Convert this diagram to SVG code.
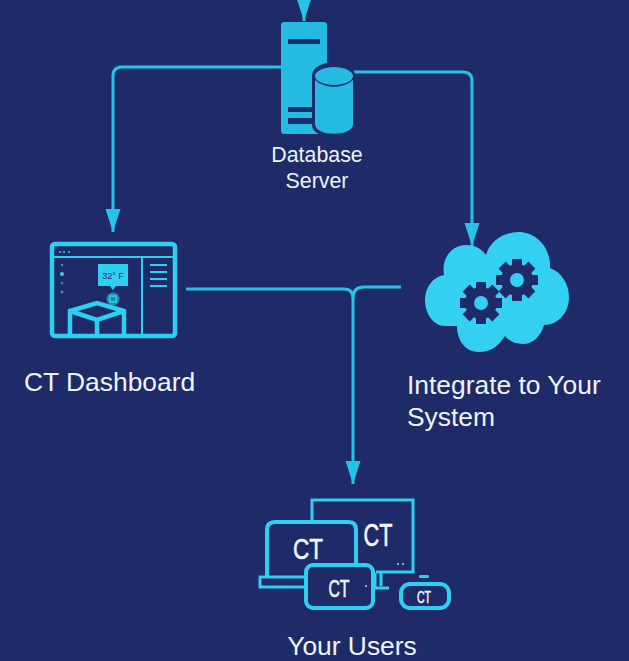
<svg xmlns="http://www.w3.org/2000/svg" width="629" height="661" viewBox="0 0 629 661">
<style>
text{font-family:"Liberation Sans",Arial,sans-serif;fill:#eef3f8}
.l{font-size:26.4px}.m{font-size:21.4px;text-anchor:middle}
.c{fill:none;stroke:#25c3e8;stroke-width:3}
.o{fill:none;stroke:#2ed0f2;stroke-width:4}
.t{fill:none;stroke:#2ed0f2;stroke-width:2}
.ct{font-weight:400;fill:#f2f4f8;text-anchor:middle;stroke:#f2f4f8;stroke-width:.6}
.bg{fill:#1f2a68}
</style>
<defs>
<marker id="a" markerUnits="userSpaceOnUse" markerWidth="24" markerHeight="16" refX="23" refY="8" orient="auto"><path d="M0 0.5L23 8 0 15.5Z" fill="#25c3e8"/></marker>
<g id="g" class="bg"><circle r="16"/><rect x="-5" y="-21" width="10" height="42"/><rect x="-5" y="-21" width="10" height="42" transform="rotate(45)"/><rect x="-5" y="-21" width="10" height="42" transform="rotate(90)"/><rect x="-5" y="-21" width="10" height="42" transform="rotate(135)"/></g>
</defs>
<rect id="background" width="629" height="661" class="bg"/>
<g id="connectors">
<path class="c" d="M304 -2V21" marker-end="url(#a)"/>
<path class="c" d="M281 67H122Q113 67 113 76V232" marker-end="url(#a)"/>
<path class="c" d="M352 72H463Q472 72 472 81V246" marker-end="url(#a)"/>
<path class="c" d="M186 289H344Q353 289 353 298V484" marker-end="url(#a)"/>
<path class="c" d="M353 298Q353 287 364 287H401"/>
</g>
<g id="database-server">
<rect x="281" y="22" width="46" height="112" rx="3" fill="#25bae2"/>
<g fill="#1f2a68"><rect x="288" y="39" width="32" height="5"/><rect x="288" y="107" width="32" height="5"/><rect x="288" y="118" width="32" height="6"/></g>
<path d="M312 76C312 58 355 58 355 76V125C355 141 312 141 312 125Z" fill="#1f2a68"/>
<path d="M315 80C325 89 343 89 353 80V124C353 137 315 137 315 124Z" fill="#25bae2"/>
<ellipse cx="334" cy="76" rx="19" ry="9" fill="#25bae2"/>
<text class="m" x="317" y="162">Database</text>
<text class="m" x="317" y="188">Server</text>
</g>
<g id="ct-dashboard">
<rect x="52" y="244" width="123" height="92" rx="3" class="o" style="stroke-width:4.5"/>
<path class="t" d="M53 257H175M142 257V336"/>
<g fill="#2ed0f2"><circle cx="60" cy="252" r="1"/><circle cx="64" cy="252" r="1"/><circle cx="69" cy="252" r="1"/>
<rect x="150" y="264" width="17" height="2"/><rect x="150" y="271" width="17" height="2"/><rect x="150" y="278" width="17" height="2"/><rect x="150" y="285" width="17" height="2"/>
<circle cx="62" cy="265" r="1"/><circle cx="62" cy="274" r="2"/><circle cx="62" cy="283" r="1.5" opacity=".5"/><circle cx="62" cy="292" r="1.5" opacity=".7"/>
<path d="M98 264H128V286H116L113 290 110 286H98Z"/></g>
<text x="113" y="279" text-anchor="middle" style="font-size:9px;fill:#1f2a68">32° F</text>
<circle cx="113" cy="299" r="6.5" fill="#1f8fb0"/>
<rect x="110" y="296" width="6" height="6" fill="none" stroke="#2ed0f2" stroke-width="1.5"/>
<path d="M70 334V311L97 303 124 311V334M70 311 97 320 124 311M97 320V334" fill="none" stroke="#2ed0f2" stroke-width="4.5"/>
<text class="l" x="24" y="391">CT Dashboard</text>
</g>
<g id="integrate-system">
<path fill="#33d0f2" d="M486 255C490 240 505 232 518 232C537 232 551 248 550 268C562 272 569 285 569 297C569 313 558 325 544 325C541 336 533 344 523 344C515 344 509 341 505 336C498 347 490 352 479 352C465 352 457 340 457 326L445 326C433 326 425 313 425 300C425 287 433 277 444 275C441 258 452 245 466 245C475 245 482 249 486 255Z"/>
<use href="#g" x="481" y="303"/><circle cx="481" cy="303" r="7" fill="#33d0f2"/>
<use href="#g" x="517" y="280"/><circle cx="517" cy="280" r="7" fill="#33d0f2"/>
<text class="l" x="407" y="394">Integrate to Your</text>
<text class="l" x="407" y="426">System</text>
</g>
<g id="your-users">
<path d="M312 522V500H413V572H376" class="o" style="stroke-width:3"/>
<path d="M267 577V530Q267 522 275 522H349Q356 522 356 530V565" class="o"/>
<path d="M306 577H260V587H306" class="o" style="stroke-width:3"/>
<path d="M375 573V588H389M381 573V586" class="o" style="stroke-width:3"/>
<rect x="306" y="565" width="67" height="43" rx="7" class="o" style="fill:#1f2a68"/>
<rect x="401" y="584" width="48" height="24" rx="9" class="o" style="fill:#1f2a68"/>
<rect x="419" y="575" width="10" height="3" rx="1" fill="#2ed0f2"/>
<text class="ct" x="308" y="559" font-size="30" textLength="30" lengthAdjust="spacingAndGlyphs">CT</text>
<text class="ct" x="378" y="546" font-size="31" textLength="29" lengthAdjust="spacingAndGlyphs">CT</text>
<text class="ct" x="339" y="597" font-size="23" textLength="21" lengthAdjust="spacingAndGlyphs">CT</text>
<text class="ct" x="424" y="603" font-size="17" textLength="14" lengthAdjust="spacingAndGlyphs">CT</text>
<g fill="#b8d4e8"><circle cx="398" cy="564" r="1"/><circle cx="403" cy="564" r="1"/><circle cx="366" cy="586" r="1"/></g>
<text class="l" x="352" y="655" text-anchor="middle">Your Users</text>
</g>
</svg>
